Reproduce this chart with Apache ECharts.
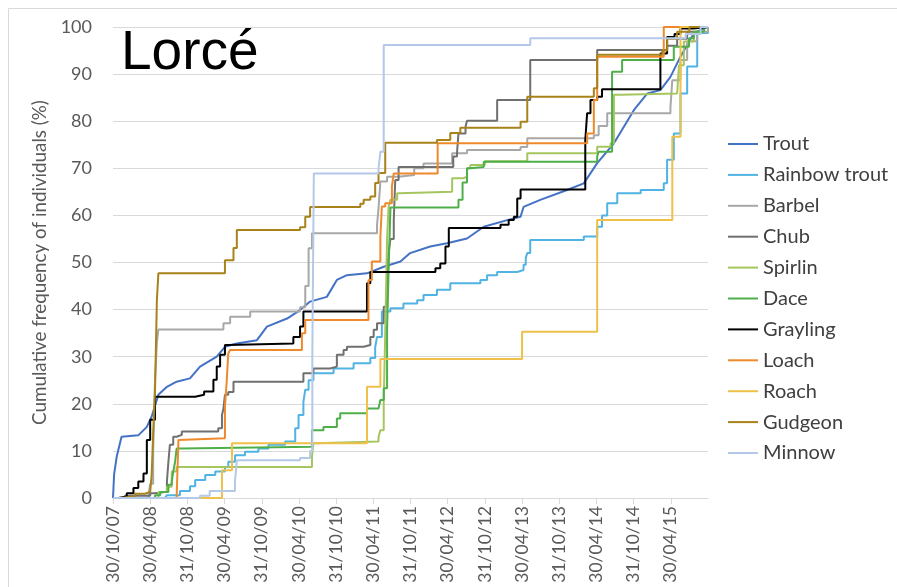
<!DOCTYPE html>
<html><head><meta charset="utf-8">
<script src="https://cdn.jsdelivr.net/npm/echarts@6/dist/echarts.min.js"></script>
<style>html,body{margin:0;padding:0;background:#fff}#c{width:897px;height:587px}</style>
</head><body><div id="c"></div>
<script>
// x values: half-year periods after 30/10/07 ; y values: cumulative frequency (%)
const tickLabels = ['30/10/07','30/04/08','31/10/08','30/04/09','31/10/09','30/04/10','31/10/10','30/04/11','31/10/11','30/04/12','31/10/12','30/04/13','31/10/13','30/04/14','31/10/14','30/04/15'];
const speciesNames = ['Trout','Rainbow trout','Barbel','Chub','Spirlin','Dace','Grayling','Loach','Roach','Gudgeon','Minnow'];

const trout = [[0,0],[0.03,5],[0.10,8.8],[0.23,13],[0.68,13.3],[0.91,15.1],[1.04,17.3],[1.22,21.9],[1.45,23.6],[1.71,24.7],[2.07,25.4],[2.34,27.9],[2.79,30],[3.01,32.1],[3.33,32.8],[3.87,33.5],[4.14,36.4],[4.68,38.1],[5.03,39.9],[5.30,41.7],[5.75,42.7],[6.02,46.3],[6.29,47.3],[6.83,47.7],[7.28,49.1],[7.73,50.2],[7.99,52],[8.53,53.4],[8.98,54.1],[9.52,55.1],[9.97,57.6],[10.60,59],[10.96,59.7],[11.04,61.8],[11.49,63.3],[12.21,65.4],[12.66,66.8],[13.02,71.1],[13.47,75.3],[14.01,82.4],[14.37,85.9],[14.72,86.6],[14.99,89.4],[15.26,93.7],[15.62,98.7],[15.98,100]];
const rainbowTrout = [[0,0],[1.40,0],[1.45,0.6],[1.80,1.5],[2.07,2.5],[2.21,3.8],[2.48,4.9],[2.75,5.6],[3.01,6.6],[3.10,7.7],[3.28,9.1],[3.55,9.8],[3.91,10.5],[4.18,11.3],[4.63,12],[4.90,14.8],[4.99,17.6],[5.12,20.4],[5.17,23],[5.26,25],[5.39,26.5],[5.93,27.5],[6.47,28.6],[6.92,29.7],[7.05,32],[7.10,34.2],[7.23,39.6],[7.46,40.3],[7.81,41.3],[8.18,42],[8.35,43.1],[8.71,44.2],[9.07,45.6],[9.88,46.3],[10.06,47.3],[10.33,48],[10.87,48.4],[11.04,49.5],[11.10,51],[11.14,52],[11.22,54.8],[12.66,55.5],[13.02,57.6],[13.15,60],[13.29,62.6],[13.56,64.7],[14.19,65.4],[14.81,66.8],[14.90,71.8],[15.08,77.4],[15.26,85.9],[15.44,91.6],[15.71,98.7],[16,100]];
const barbel = [[0,0],[0.95,0.5],[1.00,3],[1.08,10],[1.13,25],[1.18,33],[1.22,35.8],[2.97,37.1],[3.15,38.5],[3.69,39.6],[5.03,40.5],[5.17,45],[5.26,53],[5.35,56.2],[7.10,58],[7.14,61.5],[7.19,67.2],[7.37,68.2],[7.68,68.6],[8.10,70],[8.35,71],[9.12,73.2],[9.52,73.9],[10.96,74.5],[11.14,76.4],[12.93,77],[13.06,79],[13.29,81.7],[14.99,83],[15.04,88.7],[15.26,93],[15.44,97],[15.71,99],[16,100]];
const chub = [[0,0],[0.32,0.5],[1.00,1],[1.13,1.3],[1.45,3.5],[1.49,7.7],[1.53,11.3],[1.62,13],[1.71,13.4],[1.85,14.1],[2.83,14.8],[2.93,17.6],[2.97,19],[3.01,21.9],[3.10,22.5],[3.24,24.7],[5.12,26.5],[5.39,27.5],[5.84,27.9],[6.02,30.4],[6.20,31.4],[6.29,32.1],[6.74,32.5],[6.92,34.2],[7.01,35.7],[7.10,37.1],[7.28,40.6],[7.37,47.7],[7.41,52],[7.46,55],[7.55,59],[7.59,67.5],[7.68,70.3],[9.15,72.5],[9.25,73.2],[9.29,77.4],[9.48,78.8],[9.52,80.1],[10.33,84.5],[11.22,93],[13.02,95.1],[14.90,96],[15.17,97.5],[15.44,99],[15.80,100],[16,100]];
const spirlin = [[0,0],[1.22,1.3],[1.45,2.4],[1.58,5.6],[1.71,6.6],[5.35,8.8],[5.39,11.6],[5.45,12],[7.14,13],[7.19,14.4],[7.28,20],[7.32,35],[7.37,55],[7.41,61.8],[7.46,63.3],[7.64,64.7],[7.70,65],[9.12,67.9],[9.43,68.2],[9.52,70],[9.61,70.7],[10.00,71.5],[11.14,73.2],[13.02,74.6],[13.38,75.3],[13.47,85.6],[13.65,85.9],[15.17,86.3],[15.22,91.9],[15.35,96.9],[15.62,99],[15.90,100],[16,100]];
const dace = [[0,0],[1.13,0.6],[1.27,1.3],[1.49,2.8],[1.58,3.5],[1.62,5.6],[1.67,7.7],[1.71,10.5],[1.85,10.9],[5.35,14.4],[5.66,15.1],[6.02,16.9],[6.11,18],[6.83,19],[7.14,19.4],[7.19,20.8],[7.28,23.3],[7.37,35.7],[7.41,48],[7.46,61.7],[9.29,63.3],[9.40,67],[9.52,70],[9.61,70.3],[9.97,71.4],[13.02,72.5],[13.06,73.5],[13.42,90.5],[13.69,93],[15.08,95.8],[15.49,97.6],[15.62,99],[15.89,100],[16,100]];
const grayling = [[0,0],[0.14,0.3],[0.37,1],[0.55,2.1],[0.68,3.5],[0.82,5.2],[0.91,12.3],[1.00,16.6],[1.13,21.5],[2.21,21.9],[2.45,22.6],[2.70,25.1],[2.79,27.9],[2.88,30.4],[3.01,32.5],[3.10,32.8],[4.85,34.2],[5.03,36.4],[5.12,39.6],[6.83,45.6],[6.92,48],[8.67,48.8],[8.80,49.8],[8.94,53.4],[9.03,57.3],[10.42,58],[10.64,59],[10.78,59.7],[10.87,63.6],[10.96,65.5],[12.70,76],[12.75,81.7],[12.84,84.5],[13.02,85.2],[13.15,86.8],[14.72,94.4],[14.90,97.9],[15.10,98.5],[15.26,99.7],[15.60,100],[16,100]];
const loach = [[0,0],[1.71,0],[1.76,12.3],[1.80,12.7],[3.01,19.4],[3.06,25.1],[3.10,30.7],[3.15,31.4],[5.08,35],[5.17,37.8],[6.87,46.3],[6.96,50.2],[7.19,55.5],[7.23,61.9],[7.32,62.6],[7.50,66.1],[7.55,68.9],[8.73,75.3],[12.75,77.4],[12.93,84.5],[13.02,93.7],[14.81,100],[16,100]];
const roach = [[0,0],[2.93,5.9],[3.20,11.6],[6.83,23.6],[7.19,29.5],[11.00,35.3],[13.02,59],[15.04,76.7],[15.26,100],[16,100]];
const gudgeon = [[0,0],[0.23,0.4],[0.59,0.9],[0.86,1.3],[1.00,1.7],[1.04,5],[1.08,13.7],[1.13,22.9],[1.18,42],[1.22,47.7],[3.01,50.5],[3.24,53.1],[3.33,56.9],[5.03,57.5],[5.17,59.7],[5.30,61.8],[6.65,62.5],[6.74,63.3],[6.92,64],[7.05,66.9],[7.14,69],[7.32,75.4],[8.71,76],[9.07,77.5],[9.34,78.6],[10.96,79.9],[11.14,85.2],[12.93,87],[13.02,94.1],[14.77,95],[14.90,97.5],[15.17,99],[15.50,100],[16,100]];
const minnow = [[0,0],[2.34,0.5],[2.60,1.5],[3.28,3.5],[3.33,8],[5.03,8.5],[5.30,10],[5.36,30],[5.40,68.9],[7.14,70],[7.19,73.5],[7.28,96.2],[11.22,97.6],[15.40,98.5],[15.80,100],[16,100]];

const speciesData = [trout, rainbowTrout, barbel, chub, spirlin, dace, grayling, loach, roach, gudgeon, minnow];

// styling
const colors = ['#4472C4','#4FB3E3','#A8A8A8','#707070','#A5C65F','#4EAF4A','#000000','#EE8A2B','#EFC04A','#A8821B','#B4C8E8'];
const font = 'Lato, "Open Sans", sans-serif';
const tickVals = tickLabels.map((_, i) => i);

const chart = echarts.init(document.getElementById('c'));
chart.setOption({
  animation: false,
  backgroundColor: '#fff',
  title: {text: 'Lorcé', left: 116, top: 21,
    textStyle: {fontFamily: '"Liberation Sans", Arial, sans-serif', fontSize: 55, fontWeight: 'normal', color: '#000'}},
  graphic: [{type: 'rect', silent: true, shape: {x: 8.5, y: 8.5, width: 1000, height: 1000},
    style: {fill: 'none', stroke: '#d9d9d9', lineWidth: 1}}],
  legend: {orient: 'vertical', left: 723, top: 129, itemWidth: 30, itemHeight: 14, itemGap: 10.9,
    icon: 'path://M0,0L30,0L30,2L0,2Z',
    textStyle: {fontFamily: font, fontSize: 20, color: '#404040'}, data: speciesNames},
  grid: {left: 113, right: 189, top: 27, bottom: 89},
  xAxis: {type: 'value', min: 0, max: 16, interval: 1,
    axisLine: {lineStyle: {color: '#d9d9d9', width: 1}},
    axisTick: {show: true, length: 6, customValues: tickVals, lineStyle: {color: '#d9d9d9'}},
    axisLabel: {rotate: 90, customValues: tickVals, margin: 8, formatter: v => tickLabels[Math.round(v)] || '',
      fontFamily: font, fontSize: 17.5, color: '#595959'},
    splitLine: {show: false}},
  yAxis: {type: 'value', min: 0, max: 100, interval: 10,
    name: 'Cumulative frequency of individuals (%)', nameLocation: 'middle', nameGap: 56,
    nameTextStyle: {fontFamily: font, fontSize: 18.8, color: '#595959'},
    axisLine: {show: false}, axisTick: {show: false},
    axisLabel: {fontFamily: font, fontSize: 18, color: '#595959', margin: 21},
    splitLine: {lineStyle: {color: '#d9d9d9', width: 1}}},
  series: speciesData.map((d, i) => ({
    name: speciesNames[i], type: 'line', data: d, step: i === 0 ? false : 'end',
    symbol: 'none', lineStyle: {width: 2, color: colors[i]}, itemStyle: {color: colors[i]}
  }))
});
</script>
</body></html>
